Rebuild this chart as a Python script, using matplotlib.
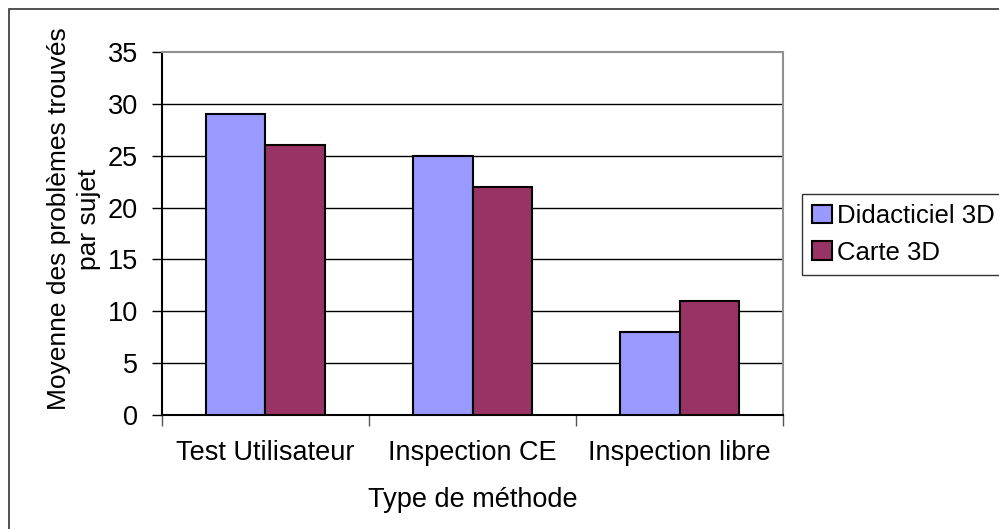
import matplotlib
matplotlib.use("Agg")
import matplotlib.pyplot as plt
from matplotlib.patches import Rectangle
import numpy as np

methodes = ["Test Utilisateur", "Inspection CE", "Inspection libre"]
didacticiel = [29, 25, 8]
carte = [26, 22, 11]
series_noms = ["Didacticiel 3D", "Carte 3D"]
yticks = [0, 5, 10, 15, 20, 25, 30, 35]

plt.rcParams['font.family'] = ['Liberation Sans', 'DejaVu Sans']
fs = 19.5

fig = plt.figure(figsize=(9.99, 5.29), dpi=100)
ax = fig.add_axes([0.162, 0.2155, 0.622, 0.686])

x = np.arange(len(methodes))
w = 1 / 3.5
ax.bar(x - w / 2, didacticiel, w, color="#9999FF", edgecolor="black", linewidth=1.5,
       label=series_noms[0], zorder=3)
ax.bar(x + w / 2, carte, w, color="#993366", edgecolor="black", linewidth=1.5,
       label=series_noms[1], zorder=3)

ax.set_xlim(-0.5, len(methodes) - 0.5)
ax.set_ylim(0, 35)
ax.set_yticks(yticks)
ax.tick_params(axis="y", labelsize=fs, length=7, width=1, direction="out", pad=10)

# category boundary ticks, labels at centres
ax.set_xticks(np.arange(len(methodes) + 1) - 0.5)
ax.set_xticklabels([])
ax.set_xticks(x, minor=True)
ax.set_xticklabels(methodes, minor=True, fontsize=fs)
ax.tick_params(axis="x", which="major", length=8, width=1, color="#555555")
ax.tick_params(axis="x", which="minor", length=0, pad=18)

for v in yticks[1:-1]:
    ax.axhline(v, color="black", linewidth=1, zorder=1)

ax.spines["left"].set_color("black")
ax.spines["bottom"].set_color("black")
ax.spines["top"].set_color("#909090")
ax.spines["right"].set_color("#909090")
for s in ax.spines.values():
    s.set_linewidth(1.5)

ax.set_ylabel("Moyenne des problèmes trouvés\npar sujet", fontsize=19,
              linespacing=1.3)
ax.yaxis.set_label_coords(-0.098, 0.54)
ax.set_xlabel("Type de méthode", fontsize=fs, labelpad=15)

leg = fig.legend(loc="upper left", bbox_to_anchor=(0.803, 0.634), fontsize=18.5,
                 frameon=True, fancybox=False, shadow=False, handlelength=0.75,
                 handleheight=0.75, handletextpad=0.2, borderpad=0.4,
                 labelspacing=0.5, borderaxespad=0)
leg.get_frame().set_edgecolor("black")
leg.get_frame().set_linewidth(1)

fig.patches.append(Rectangle((9 / 999, -0.05), 1.2, (529 - 9) / 529 + 0.05,
                             transform=fig.transFigure, fill=False,
                             edgecolor="#333333", linewidth=1.2))

fig.savefig("out.png", dpi=100)
